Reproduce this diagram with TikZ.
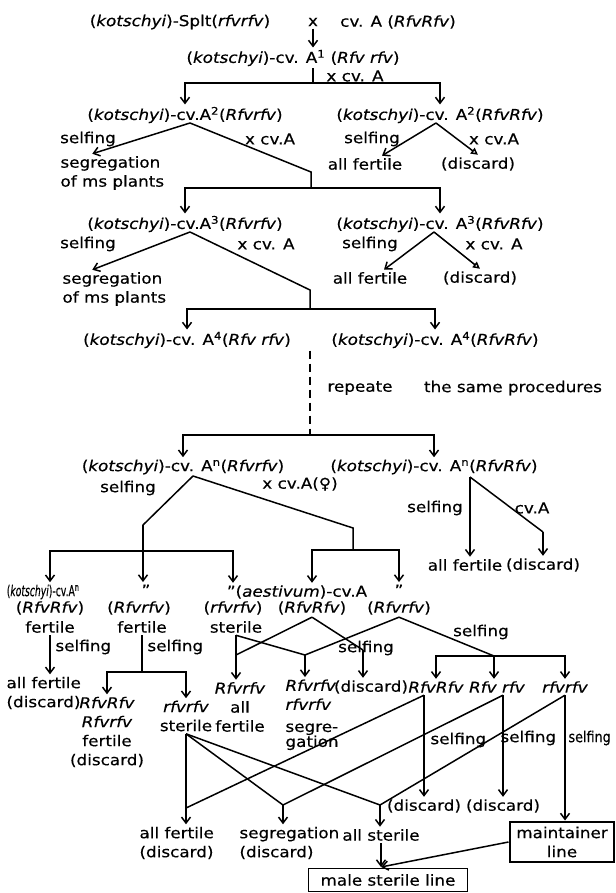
\documentclass[tikz,border=0pt]{standalone}
\usepackage{fontspec}
\setmainfont{DejaVu Sans}[ItalicFont={DejaVu Sans Oblique},FakeStretch=1.12,FakeBold=0.4]
\usetikzlibrary{arrows.meta}

\begin{document}
\begin{tikzpicture}[x=1pt,y=-1pt,line width=1.5pt,
  >={Straight Barb[length=6pt,width=9pt]},
  font=\fontsize{15}{19}\selectfont,
  every node/.style={inner sep=1pt,outer sep=1.5pt},
  left node/.style={anchor=west,align=left},
  col node/.style={align=center},
  box node/.style={draw,line width=1.2pt,inner sep=2pt,align=center},
  open arrow/.style={-{Triangle[open,length=7pt,width=7pt]}}]

  \useasboundingbox (0,0) rectangle (615,893);

  \node (p1) at (180,22) {(\textit{kotschyi})-Splt(\textit{rfvrfv})};
  \node (px) at (313,22) {x};
  \node (p2) at (398,22) {cv. A (\textit{RfvRfv})};
  \node (a1) at (293,58) {(\textit{kotschyi})-cv. A\textsuperscript{1} (\textit{Rfv rfv})};
  \node (x1) at (355,76) {x cv. A};
  \coordinate (j1) at (313,83);

  \node (a2l) at (185,115) {(\textit{kotschyi})-cv.A\textsuperscript{2}(\textit{Rfvrfv})};
  \node (a2r) at (440,115) {(\textit{kotschyi})-cv. A\textsuperscript{2}(\textit{RfvRfv})};
  \node (sf2l) at (88,139) {selfing};
  \node (xc2l) at (270,139) {x cv.A};
  \node[left node] (sg2) at (58,173) {segregation\\of ms plants};
  \node (sf2r) at (372,139) {selfing};
  \node (xc2r) at (494,139) {x cv.A};
  \node (af2) at (365,164) {all fertile};
  \node (dc2) at (478,164) {(discard)};
  \coordinate (b2l) at (190,123);
  \coordinate (k2) at (311,172);
  \coordinate (j2) at (311,188);
  \coordinate (b2r) at (436,123);

  \node (a3l) at (185,224) {(\textit{kotschyi})-cv.A\textsuperscript{3}(\textit{Rfvrfv})};
  \node (a3r) at (440,224) {(\textit{kotschyi})-cv. A\textsuperscript{3}(\textit{RfvRfv})};
  \node (sf3l) at (88,244) {selfing};
  \node (xc3l) at (266,244) {x cv. A};
  \node[left node] (sg3) at (60,289) {segregation\\of ms plants};
  \node (sf3r) at (370,244) {selfing};
  \node (xc3r) at (494,244) {x cv. A};
  \node (af3) at (370,278) {all fertile};
  \node (dc3) at (480,278) {(discard)};
  \coordinate (b3l) at (190,232);
  \coordinate (k3) at (310,290);
  \coordinate (j3) at (310,309);
  \coordinate (b3r) at (434,232);

  \node (a4l) at (187,340) {(\textit{kotschyi})-cv. A\textsuperscript{4}(\textit{Rfv rfv})};
  \node (a4r) at (435,340) {(\textit{kotschyi})-cv. A\textsuperscript{4}(\textit{RfvRfv})};
  \node (rp) at (360,388) {repeate};
  \node (sp) at (513,388) {the same procedures};
  \coordinate (j4) at (310,435);

  \node (anl) at (183,467) {(\textit{kotschyi})-cv. A\textsuperscript{n}(\textit{Rfvrfv})};
  \node (anr) at (434,467) {(\textit{kotschyi})-cv. A\textsuperscript{n}(\textit{RfvRfv})};
  \node (sfnl) at (128,488) {selfing};
  \node (xcn) at (300,484) {x cv.A(♀)};
  \node (sfnr) at (435,508) {selfing};
  \node (cvn) at (532,508) {cv.A};
  \node (afn) at (465,565) {all fertile};
  \node (dcn) at (543,565) {(discard)};
  \coordinate (bnl) at (193,476);
  \coordinate (knl) at (143,525);
  \coordinate (jnl) at (143,551);
  \coordinate (knr) at (353,528);
  \coordinate (jnr) at (353,550);
  \coordinate (bnr) at (470,477);
  \coordinate (kn2) at (543,532);

  \node (c1t) at (43,592) {\scalebox{0.55}[1]{(\textit{kotschyi})-cv.A\textsuperscript{n}}};
  \node (c2t) at (146,590) {"};
  \node (c3t) at (297,592) {"(\textit{aestivum})-cv.A};
  \node (c5t) at (399,590) {"};
  \node (g1) at (50,608) {(\textit{RfvRfv})};
  \node (g2) at (139,608) {(\textit{Rfvrfv})};
  \node (g3) at (233,608) {(\textit{rfvrfv})};
  \node (g4) at (312,608) {(\textit{RfvRfv})};
  \node (g5) at (399,608) {(\textit{Rfvrfv})};
  \node (f1) at (50,627) {fertile};
  \node (f2) at (142,627) {fertile};
  \node (f3) at (236,627) {sterile};

  \node[left node] (sfa) at (53,647) {selfing};
  \node[left node] (sfb) at (145,647) {selfing};
  \node[left node] (afd) at (4,693) {all fertile\\(discard)};
  \node[col node] (fd2) at (107,732) {\textit{RfvRfv}\\\textit{Rfvrfv}\\fertile\\(discard)};
  \node[col node] (st2) at (186,716) {\textit{rfvrfv}\\sterile};
  \node[col node] (r3) at (240,707) {\textit{Rfvrfv}\\all\\fertile};
  \node[anchor=north west,align=left] (r4) at (283,677) {\textit{Rfvrfv}\\\textit{rfvrfv}\\[3pt]segre-\\[-4pt]gation};
  \node (dd4) at (371,687) {(discard)};
  \node (sf4) at (366,648) {selfing};
  \node (sf5) at (481,632) {selfing};
  \node (q1) at (436,687) {\textit{RfvRfv}};
  \node (q2) at (497,687) {\textit{Rfv rfv}};
  \node (q3) at (565,687) {\textit{rfvrfv}};
  \coordinate (m3) at (236,655);
  \coordinate (m4) at (305,655);
  \coordinate (m45) at (363,650);
  \coordinate (m5) at (494,656);
  \coordinate (j6) at (142,672);

  \node[left node] (bf) at (137,843) {all fertile\\(discard)};
  \node[left node] (bs) at (237,843) {segregation\\(discard)};
  \node (bt) at (381,835) {all sterile};
  \node (dd5) at (424,806) {(discard)};
  \node (dd6) at (503,806) {(discard)};
  \node[left node] (sb1) at (428,740) {selfing};
  \node[left node] (sb2) at (498,738) {selfing};
  \node[left node] (sb3) at (566,738) {\scalebox{0.76}[1]{selfing}};
  \node[box node,minimum width=104pt,minimum height=40pt] (mnt) at (562,842) {maintainer\\line};
  \node[box node,minimum width=159pt,minimum height=23pt] (msl) at (388,880) {male sterile line};
  \coordinate (v1) at (q1.south -| dd5);
  \coordinate (v2) at (q2.south -| dd6);
  \coordinate (w0) at (st2.south);
  \coordinate (y1) at (186,808);
  \coordinate (y2) at (283,805);
  \coordinate (y3) at (380,805);

  \draw[->] (px) -- (px |- a1.north);
  \draw (px |- a1.south) -- (j1);
  \draw[->] (j1) -| (a2l);
  \draw[->] (j1) -| (a2r);
  \draw[->] (b2l) -- ([xshift=-20pt]sg2.north);
  \draw (b2l) -- (k2) -- (j2);
  \draw[->] (j2) -| (a3l);
  \draw[->] (j2) -| (a3r);
  \draw[->] (b2r) -- ([xshift=17pt]af2.north);
  \draw[open arrow] (b2r) -- (dc2.north);

  \draw[->] (b3l) -- ([xshift=-22pt]sg3.north);
  \draw (b3l) -- (k3) -- (j3);
  \draw[->] (j3) -| (a4l);
  \draw[->] (j3) -| (a4r);
  \draw[->] (b3r) -- ([xshift=14pt]af3.north);
  \draw[open arrow] (b3r) -- (dc3.north);

  \draw[dash pattern=on 8pt off 5pt] (a4l.south -| j4) -- (j4);
  \draw[->] (j4) -| (anl);
  \draw[->] (j4) -| (anr);

  \draw (bnl) -- (knl) -- (jnl);
  \draw[->] (knl) -- (knl |- c2t.north);
  \draw[->] (jnl) -| (g1 |- c1t.north);
  \draw[->] (jnl) -| (g3 |- c3t.north);
  \draw (bnl) -- (knr) -- (jnr);
  \draw[->] (jnr) -| (g4 |- c3t.north);
  \draw[->] (jnr) -| (c5t);
  \draw[->] (bnr) -- (bnr |- afn.north);
  \draw (bnr) -- (kn2);
  \draw[->] (kn2) -- (kn2 |- dcn.north);

  \draw[->] (f1.south) -- (f1.south |- afd.north);
  \draw (f2.south) -- (j6);
  \draw[->] (j6) -| (fd2);
  \draw[->] (j6) -| (st2);
  \draw[->] (f3.south) -- (f3.south |- r3.north);
  \draw (f3.south) -- (m4);
  \draw (g4.south) -- (m3);
  \draw (g4.south) -- (m45);
  \draw[->] (m45) -- (m45 |- dd4.north);
  \draw (g5.south) -- (m4);
  \draw[->] (m4) -- (m4 |- r4.north);
  \draw (g5.south) -- (m5);
  \draw[->] (m5) -| (q1);
  \draw[->] (m5) -- (m5 |- q2.north);
  \draw[->] (m5) -| (q3);

  \draw[->] (v1) -- (dd5.north);
  \draw[->] (v2) -- (dd6.north);
  \draw[->] (q3.south) -- (q3.south |- mnt.north);
  \draw[->] (w0) -- (w0 |- bf.north);
  \draw (v1) -- (y1);
  \draw (w0) -- (y2);
  \draw (v2) -- (y2);
  \draw[->] (y2) -- (y2 |- bs.north);
  \draw (w0) -- (y3);
  \draw (q3.south) -- (y3);
  \draw[->] (y3) -- (y3 |- bt.north);
  \draw[->] (bt.south) -- (bt.south |- msl.north);
  \draw[->] (mnt.west) -- (bt.south |- msl.north);

\end{tikzpicture}
\end{document}
